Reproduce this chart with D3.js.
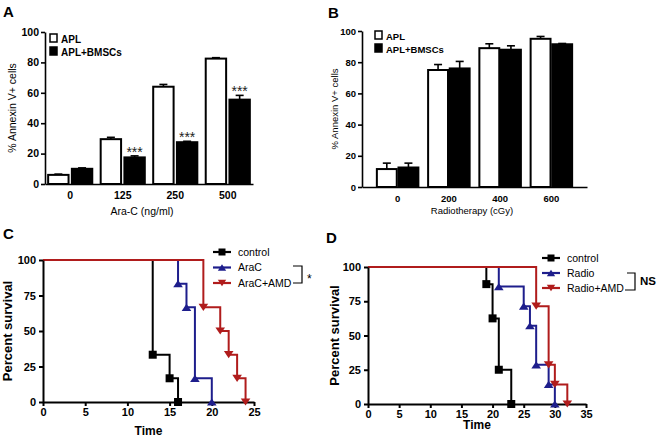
<!DOCTYPE html>
<html><head><meta charset="utf-8">
<script src="https://cdn.jsdelivr.net/npm/d3@7"></script>
<style>body{margin:0;background:#fff} svg{display:block} text{font-family:"Liberation Sans",Arial,sans-serif}</style>
</head><body><svg id="c" width="660" height="439"></svg>
<script>
// ---- Panel A data ----
const doseA = ["0", "125", "250", "500"];
const aplA = [6, 29.5, 64, 82.5];
const aplAErr = [0.5, 1.2, 1.5, 0.6];
const bmscA = [10, 17.5, 27.5, 55.5];
const bmscAErr = [0.6, 1, 0.6, 2.8];
const sigA = ["", "***", "***", "***"];
// ---- Panel B data ----
const doseB = ["0", "200", "400", "600"];
const aplB = [11.5, 75, 89, 95];
const aplBErr = [3.8, 3.5, 2.8, 1.5];
const bmscB = [12.5, 76, 88, 91.5];
const bmscBErr = [2.8, 4.5, 2.5, 0.5];
const sigB = ["", "", "", ""];
const barSeries = ["APL", "APL+BMSCs"];
const yTicksBar = [0, 20, 40, 60, 80, 100];
// ---- Panel C data ----
const seriesC = ["control", "AraC", "AraC+AMD"];
const timesC = [[0, 13, 15, 16], [0, 16, 17, 18, 20], [0, 19, 21, 22, 23, 24]];
const survC = [[100, 33.3, 16.7, 0], [100, 83.3, 66.7, 16.7, 0], [100, 66.7, 50, 33.3, 16.7, 0]];
const timeTicksC = [0, 5, 10, 15, 20, 25];
// ---- Panel D data ----
const seriesD = ["control", "Radio", "Radio+AMD"];
const timesD = [[0, 19, 20, 21, 23], [0, 21, 25, 26, 27, 29, 30], [0, 27, 29, 30, 32]];
const survD = [[100, 87.5, 62.5, 25, 0], [100, 85.7, 71.4, 57.1, 28.6, 14.3, 0], [100, 71.4, 28.6, 14.3, 0]];
const timeTicksD = [0, 5, 10, 15, 20, 25, 30, 35];
const survTicks = [0, 25, 50, 75, 100];
const survColors = ["#000000", "#1e1e8c", "#b01c1c"];
const survShapes = ["square", "up", "down"];

const svg = d3.select("#c");
const FONT = '"Liberation Sans",Arial,sans-serif';

function styleAxis(g, w) {
  g.selectAll("path.domain").attr("stroke", "#000").attr("stroke-width", w);
  g.selectAll(".tick line").attr("stroke", "#000").attr("stroke-width", w);
}

function barPanel(cfg, cats, v1, e1, v2, e2, sig) {
  const g = svg.append("g");
  const x = d3.scaleBand().domain(cats).range([cfg.x0, cfg.x1])
    .paddingInner(cfg.pi).paddingOuter(cfg.po);
  const sub = d3.scaleBand().domain(barSeries).range([0, x.bandwidth()]).paddingInner(cfg.sp);
  const y = d3.scaleLinear().domain([0, 100]).range([cfg.y0, cfg.y100]);

  const ya = g.append("g").attr("transform", `translate(${cfg.x0},0)`)
    .call(d3.axisLeft(y).tickValues(yTicksBar).tickSize(4).tickSizeOuter(0).tickPadding(2));
  ya.selectAll("text").attr("font-family", FONT).attr("font-weight", "bold").attr("font-size", cfg.tickFs).attr("fill", "#000");
  styleAxis(ya, 1.6);

  const xa = g.append("g").attr("transform", `translate(0,${cfg.y0})`)
    .call(d3.axisBottom(x).tickSize(0).tickPadding(8));
  xa.selectAll("text").attr("font-family", FONT).attr("font-weight", "bold").attr("font-size", cfg.tickFs).attr("fill", "#000");
  styleAxis(xa, 1.6);

  const data = [];
  cats.forEach((c, i) => {
    data.push({c, s: barSeries[0], v: v1[i], e: e1[i], fill: "#fff", sig: ""});
    data.push({c, s: barSeries[1], v: v2[i], e: e2[i], fill: "#000", sig: sig[i]});
  });
  data.forEach(d => {
    const cx = x(d.c) + sub(d.s) + sub.bandwidth() / 2;
    g.append("line").attr("x1", cx).attr("x2", cx).attr("y1", y(d.v)).attr("y2", y(d.v + d.e))
      .attr("stroke", "#000").attr("stroke-width", 1.6);
    g.append("line").attr("x1", cx - 4).attr("x2", cx + 4).attr("y1", y(d.v + d.e)).attr("y2", y(d.v + d.e))
      .attr("stroke", "#000").attr("stroke-width", 1.6);
    if (d.sig) {
      g.append("text").attr("x", cx).attr("y", y(d.v + d.e) + 1).attr("text-anchor", "middle")
        .attr("font-size", 14).attr("fill", "#222").text(d.sig);
    }
  });
  g.selectAll("rect.bar").data(data).join("rect").attr("class", "bar")
    .attr("x", d => x(d.c) + sub(d.s))
    .attr("width", sub.bandwidth())
    .attr("y", d => y(d.v))
    .attr("height", d => y(0) - y(d.v))
    .attr("fill", d => d.fill).attr("stroke", "#000").attr("stroke-width", 2);

  const lg = g.append("g");
  barSeries.forEach((s, i) => {
    lg.append("rect").attr("x", cfg.lx).attr("y", cfg.ly + i * cfg.lstep).attr("width", 7).attr("height", 8)
      .attr("fill", i ? "#000" : "#fff").attr("stroke", "#000").attr("stroke-width", 1.5);
    lg.append("text").attr("x", cfg.lx + 11).attr("y", cfg.ly + i * cfg.lstep + 8.5)
      .attr("font-weight", "bold").attr("font-size", cfg.legFs).text(s);
  });
  g.append("text").attr("transform", `translate(${cfg.ytx},${(cfg.y0 + cfg.y100) / 2}) rotate(-90)`)
    .attr("text-anchor", "middle").attr("font-size", cfg.titFs).text("% Annexin V+ cells");
  g.append("text").attr("x", cfg.xtx).attr("y", cfg.xty).attr("text-anchor", "middle")
    .attr("font-size", cfg.titFs).text(cfg.xtitle);
  g.append("text").attr("x", cfg.px).attr("y", cfg.py).attr("font-weight", "bold").attr("font-size", 15).text(cfg.label);
}

barPanel({x0: 45, x1: 253, y0: 184, y100: 32, pi: 0.16, po: 0.06, sp: 0.14, tickFs: 10.5, legFs: 10, titFs: 10.5,
  lx: 50, ly: 34, lstep: 13, ytx: 16, xtx: 142, xty: 215, xtitle: "Ara-C (ng/ml)", px: 3, py: 17, label: "A"},
  doseA, aplA, aplAErr, bmscA, bmscAErr, sigA);
barPanel({x0: 362, x1: 587, y0: 187, y100: 31, pi: 0.19, po: 0.29, sp: 0.08, tickFs: 9.5, legFs: 9.5, titFs: 9.5,
  lx: 375, ly: 31, lstep: 13, ytx: 338, xtx: 472, xty: 214, xtitle: "Radiotherapy (cGy)", px: 328, py: 18, label: "B"},
  doseB, aplB, aplBErr, bmscB, bmscBErr, sigB);

function marker(g, shape, cx, cy, color, s) {
  if (shape === "square") {
    g.append("rect").attr("x", cx - s / 2).attr("y", cy - s / 2).attr("width", s).attr("height", s).attr("fill", color);
  } else {
    const h = s * 0.9, w = s * 0.6;
    const pts = shape === "up"
      ? [[cx, cy - h / 2], [cx - w, cy + h / 2], [cx + w, cy + h / 2]]
      : [[cx, cy + h / 2], [cx - w, cy - h / 2], [cx + w, cy - h / 2]];
    g.append("path").attr("d", "M" + pts.map(p => p.join(",")).join("L") + "Z").attr("fill", color);
  }
}

function survPanel(cfg, names, times, surv, tticks) {
  const g = svg.append("g");
  const x = d3.scaleLinear().domain([0, tticks[tticks.length - 1]]).range([cfg.x0, cfg.x1]);
  const y = d3.scaleLinear().domain([0, 100]).range([cfg.y0, cfg.y100]);
  const line = d3.line().x(d => x(d[0])).y(d => y(d[1])).curve(d3.curveStepAfter);

  names.forEach((n, k) => {
    const pts = times[k].map((t, i) => [t, surv[k][i]]);
    g.append("path").attr("d", line(pts)).attr("fill", "none").attr("stroke", survColors[k]).attr("stroke-width", 2);
  });
  const ya = g.append("g").attr("transform", `translate(${cfg.x0},0)`)
    .call(d3.axisLeft(y).tickValues(survTicks).tickSize(4).tickSizeOuter(0).tickPadding(3));
  ya.selectAll("text").attr("font-family", FONT).attr("font-weight", "bold").attr("font-size", cfg.tickFs).attr("fill", "#000");
  styleAxis(ya, 2);
  const xa = g.append("g").attr("transform", `translate(0,${cfg.y0})`)
    .call(d3.axisBottom(x).tickValues(tticks).tickSize(4).tickSizeOuter(0).tickPadding(2));
  xa.selectAll("text").attr("font-family", FONT).attr("font-weight", "bold").attr("font-size", cfg.tickFs).attr("fill", "#000");
  styleAxis(xa, 2);

  names.forEach((n, k) => {
    times[k].forEach((t, i) => {
      if (i > 0) marker(g, survShapes[k], x(t), y(surv[k][i]), survColors[k], 8);
    });
  });

  names.forEach((n, k) => {
    const ly = cfg.ly + k * cfg.lstep;
    g.append("line").attr("x1", cfg.lx).attr("x2", cfg.lx + 18).attr("y1", ly).attr("y2", ly)
      .attr("stroke", survColors[k]).attr("stroke-width", 2.2);
    marker(g, survShapes[k], cfg.lx + 9, ly, survColors[k], 7);
    g.append("text").attr("x", cfg.lx + 25).attr("y", ly + 3.5).attr("font-size", 10.5).text(n);
  });
  const b = cfg.br;
  g.append("path").attr("d", `M${b.x1},${b.y1}H${b.x2}V${b.y2}H${b.x0}`).attr("fill", "none")
    .attr("stroke", "#000").attr("stroke-width", 1.2);
  g.append("text").attr("x", b.x2 + 5).attr("y", b.ty).attr("font-size", b.fs).attr("font-weight", b.fw).text(b.t);

  g.append("text").attr("transform", `translate(${cfg.ytx},${(cfg.y0 + cfg.y100) / 2}) rotate(-90)`)
    .attr("text-anchor", "middle").attr("font-size", 13).attr("font-weight", "bold").text("Percent survival");
  g.append("text").attr("x", (cfg.x0 + cfg.x1) / 2).attr("y", cfg.xty).attr("text-anchor", "middle")
    .attr("font-size", 12).attr("font-weight", "bold").text("Time");
  g.append("text").attr("x", cfg.px).attr("y", cfg.py).attr("font-weight", "bold").attr("font-size", 15).text(cfg.label);
}

survPanel({x0: 43, x1: 254, y0: 402, y100: 260, tickFs: 11, lx: 213, ly: 252, lstep: 15.5, ytx: 12, xty: 435,
  br: {x0: 293, x1: 293, x2: 302, y1: 266, y2: 283, t: "*", ty: 283, fs: 12, fw: "normal"},
  px: 3, py: 239, label: "C"}, seriesC, timesC, survC, timeTicksC);
survPanel({x0: 368, x1: 586, y0: 404, y100: 267, tickFs: 11, lx: 542, ly: 258, lstep: 15, ytx: 339, xty: 429,
  br: {x0: 625, x1: 627, x2: 635, y1: 273, y2: 290, t: "NS", ty: 285, fs: 11.5, fw: "bold"},
  px: 326, py: 243, label: "D"}, seriesD, timesD, survD, timeTicksD);
</script></body></html>
